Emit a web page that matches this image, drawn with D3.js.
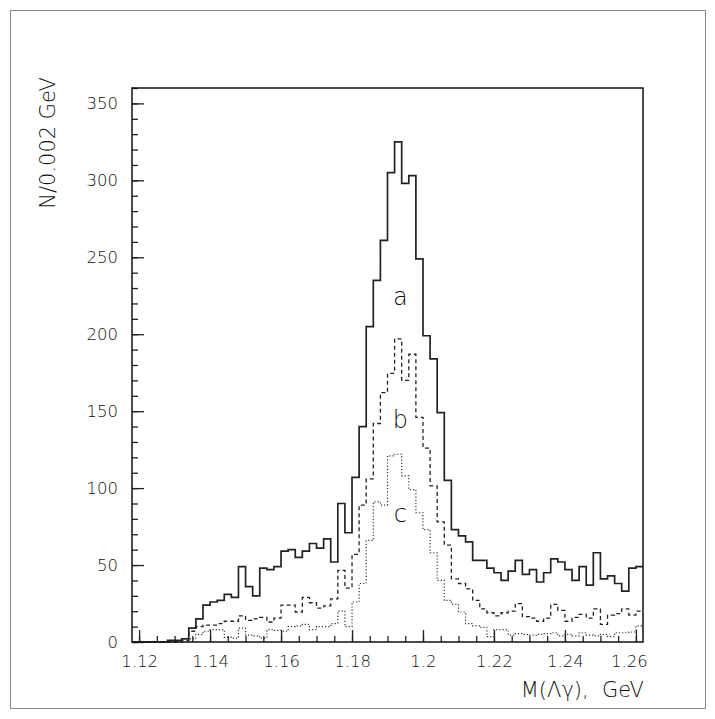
<!DOCTYPE html>
<html>
<head>
<meta charset="utf-8">
<script src="https://cdn.jsdelivr.net/npm/d3@7"></script>
<style>
	html, body { margin: 0; padding: 0; background: #fff; }
	svg text { font-family: "DejaVu Sans", "Liberation Sans", sans-serif; fill: #111; }
</style>
</head>
<body>
<div id="chart"></div>
<script>
// histogram binning: 72 bins of 0.002 GeV starting at 1.118
const binStart = 1.118;
const binWidth = 0.002;

// a - all events (solid)
const countsA = [0, 0, 0, 0, 0, 1, 1, 2, 9, 15, 24, 26, 27, 31, 29, 49, 36, 30, 48, 47,
	49, 59, 60, 55, 59, 64, 61, 67, 52, 90, 71, 107, 140, 205, 235, 261, 305, 325, 298, 303,
	249, 199, 184, 149, 105, 73, 69, 65, 53, 53, 48, 45, 40, 46, 53, 44, 47, 39, 45, 54,
	52, 47, 40, 49, 37, 58, 41, 43, 38, 33, 48, 49];
// b - dashed
const countsB = [0, 0, 0, 0, 0, 0, 0, 1, 7, 10, 11, 11, 12, 13.5, 13.5, 17, 14, 15, 16, 13,
	15.5, 24, 24, 19.5, 29, 25.5, 22, 23.5, 28, 46.5, 35, 57, 89, 106, 142, 162, 174.5, 197, 170, 187,
	146, 126, 101.5, 78, 63, 41, 38, 34.5, 27, 21.5, 19, 17, 19, 20, 25, 16.5, 15.5, 13.5, 15.5, 24.5,
	20.5, 13.5, 16, 18, 15.5, 21.5, 11.5, 17.5, 18.5, 21.5, 17.5, 20];
// c - dotted
const countsC = [0, 0, 0, 0, 0, 0, 0, 0, 2, 5, 7, 8, 8, 3, 2.5, 9, 4.5, 4, 2.5, 8,
	7.5, 7, 10, 10.5, 11.5, 8, 10, 10, 12, 20, 10, 26, 38, 66, 91, 89, 121, 122, 108, 99,
	84, 73, 58, 40, 27, 24.5, 19.5, 12, 10.5, 9.5, 3.5, 8, 8, 4.5, 5.5, 5, 4.5, 5, 5.5, 6,
	4, 5, 4, 6, 4.5, 4, 5, 3.5, 6, 6, 6.5, 10.5];

const xMajorTicks = [1.12, 1.14, 1.16, 1.18, 1.2, 1.22, 1.24, 1.26];
const yMajorTicks = [0, 50, 100, 150, 200, 250, 300, 350];

const W = 715, H = 719;
const plot = { left: 132, right: 643, top: 88, bottom: 642 };

const svg = d3.select('#chart')
	.append('svg')
	.attr('width', W)
	.attr('height', H);

// page border
svg.append('rect')
	.attr('x', 10.5).attr('y', 10.5)
	.attr('width', 695).attr('height', 698)
	.style('fill', 'none')
	.attr('stroke', '#888')
	.style('stroke-width', 1);

const x = d3.scaleLinear()
	.domain([binStart, binStart + binWidth * countsA.length])
	.range([plot.left, plot.right]);
const y = d3.scaleLinear()
	.domain([0, 360])
	.range([plot.bottom, plot.top]);

//	step outline for one histogram
const stepLine = d3.line()
	.x(d => x(d[0]))
	.y(d => y(d[1]))
	.curve(d3.curveStepAfter);

const toSteps = counts => {
	const pts = counts.map((v, i) => [binStart + i * binWidth, v]);
	pts.push([binStart + counts.length * binWidth, counts[counts.length - 1]]);
	return pts;
};

const drawHist = (counts, dash, width, color) => {
	svg.append('path')
		.attr('d', stepLine(toSteps(counts)))
		.style('fill', 'none')
		.attr('stroke', color)
		.style('stroke-width', width)
		.attr('stroke-dasharray', dash);
};

drawHist(countsC, '1.2,2', 1.2, '#333');
drawHist(countsB, '4,3', 1.3, '#222');
drawHist(countsA, null, 1.7, '#222');

//	x axis: minor every 0.005, major every 0.02
const xMinor = d3.range(0, 29).map(i => 1.12 + i * 0.005);
svg.append('g')
	.attr('transform', 'translate(0,' + plot.bottom + ')')
	.call(d3.axisBottom(x).tickValues(xMinor).tickSize(-6).tickFormat(''))
	.call(g => g.select('.domain').remove());
svg.append('g')
	.attr('class', 'xmajor')
	.attr('transform', 'translate(0,' + plot.bottom + ')')
	.call(d3.axisBottom(x).tickValues(xMajorTicks).tickSize(-12).tickPadding(13)
		.tickFormat(d => d3.format('')(+d.toFixed(2))))
	.call(g => g.select('.domain').remove());

//	y axis: minor every 10, major every 50
svg.append('g')
	.attr('transform', 'translate(' + plot.left + ',0)')
	.call(d3.axisLeft(y).tickValues(d3.range(0, 361, 10)).tickSize(-6).tickFormat(''))
	.call(g => g.select('.domain').remove());
svg.append('g')
	.attr('transform', 'translate(' + plot.left + ',0)')
	.call(d3.axisLeft(y).tickValues(yMajorTicks).tickSize(-12).tickPadding(14))
	.call(g => g.select('.domain').remove());

svg.selectAll('.tick line')
	.attr('stroke', '#222')
	.style('stroke-width', 1.3);
svg.selectAll('.tick text')
	.style('font-size', '16.5px')
	.style('font-weight', 200)
	.style('fill', '#111');
// last x label pulled inside the frame
svg.selectAll('.xmajor .tick text')
	.filter(d => d === 1.26)
	.attr('dx', -7);

// frame
svg.append('rect')
	.attr('x', plot.left).attr('y', plot.top)
	.attr('width', plot.right - plot.left)
	.attr('height', plot.bottom - plot.top)
	.style('fill', 'none')
	.attr('stroke', '#111')
	.style('stroke-width', 1.5);

//	axis titles
svg.append('text')
	.attr('transform', 'translate(55,143) rotate(-90)')
	.attr('text-anchor', 'middle')
	.style('font-size', '21px')
	.style('font-weight', 200)
	.text('N/0.002 GeV');
svg.append('text')
	.attr('x', 644).attr('y', 697)
	.attr('text-anchor', 'end')
	.style('font-size', '21px')
	.style('font-weight', 200)
	.style('white-space', 'pre')
	.text('M(\u039B\u03B3),  GeV');

//	curve labels
const curveLabels = ['a', 'b', 'c'];
const labelPos = [[1.1936, 219], [1.1936, 139], [1.1936, 78]];
svg.selectAll('.clabel')
	.data(curveLabels)
	.enter()
	.append('text')
	.attr('class', 'clabel')
	.attr('x', (d, i) => x(labelPos[i][0]))
	.attr('y', (d, i) => y(labelPos[i][1]))
	.attr('text-anchor', 'middle')
	.style('font-size', '24px')
	.style('font-weight', 200)
	.text(d => d);
</script>
</body>
</html>
